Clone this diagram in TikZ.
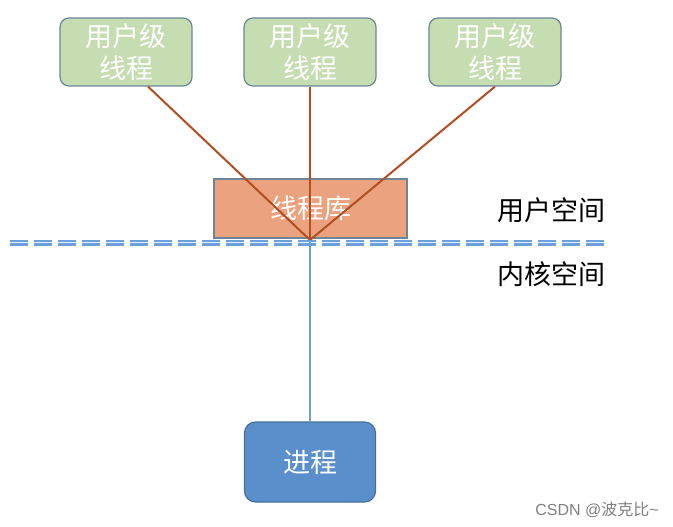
\documentclass[tikz,border=0pt]{standalone}
\usepackage{fontspec}
\newfontfamily\cjk{Noto Sans CJK SC}
\begin{document}
\begin{tikzpicture}[x=1pt,y=-1pt,
  ubox/.style={draw=myborder,fill=mygreen,line width=1.2pt,rounded corners=9pt,minimum width=132pt,minimum height=68pt,text=white,font=\cjk\fontsize{27}{30}\selectfont,align=center,inner sep=0pt},
  libbox/.style={draw=myborder,fill=myorange,line width=1.2pt,minimum width=193pt,minimum height=59pt,text=white,font=\cjk\fontsize{27}{30}\selectfont,inner sep=0pt},
  pbox/.style={draw=pborder,fill=pblue,line width=1.2pt,rounded corners=11pt,minimum width=131pt,minimum height=80pt,text=white,font=\cjk\fontsize{27}{30}\selectfont,inner sep=0pt},
  conn/.style={draw=mybrown,line width=2pt},
  lab/.style={font=\cjk\fontsize{27}{30}\selectfont,text=black}
]
\definecolor{myborder}{HTML}{6C8599}
\definecolor{mygreen}{HTML}{C6DDB2}
\definecolor{myorange}{HTML}{EBA27F}
\definecolor{mybrown}{HTML}{B24E22}
\definecolor{pblue}{HTML}{5A8FCB}
\definecolor{pborder}{HTML}{41719C}
\definecolor{lblue}{HTML}{6CA0DA}
\useasboundingbox (0,0) rectangle (673,527);
\fill[white] (0,0) rectangle (673,527);

\node[ubox] (u1) at (126,52) {用户级\\[1.5pt]线程};
\node[ubox] (u2) at (310,52) {用户级\\[1.5pt]线程};
\node[ubox] (u3) at (495,52) {用户级\\[1.5pt]线程};

\node[libbox] (lib) at (310.5,208.5) {线程库};
\coordinate (hub) at (310,240);

\draw[line width=2.4pt,lblue,double=white!85!lblue,double distance=1.2pt,dash pattern=on 18pt off 6pt] (10,242.5) -- (608,242.5);

\node[pbox] (p) at (310,462) {进程};

\draw[conn] (u1.south) ++(22,0) coordinate (a1) -- (hub);
\draw[conn] (u2.south) -- (hub);
\draw[conn] (u3.south) -- (hub);
\draw[lblue,line width=2pt] (hub) -- (p.north);

\node[lab] (us) at (551,210) {用户空间};
\node[lab] (ks) at (551,274) {内核空间};
\node[font=\fontspec{Liberation Sans}\fontsize{16}{18}\selectfont,text=gray] (wm) at (597,510) {CSDN @{\cjk 波克比}\textasciitilde};
\end{tikzpicture}
\end{document}
